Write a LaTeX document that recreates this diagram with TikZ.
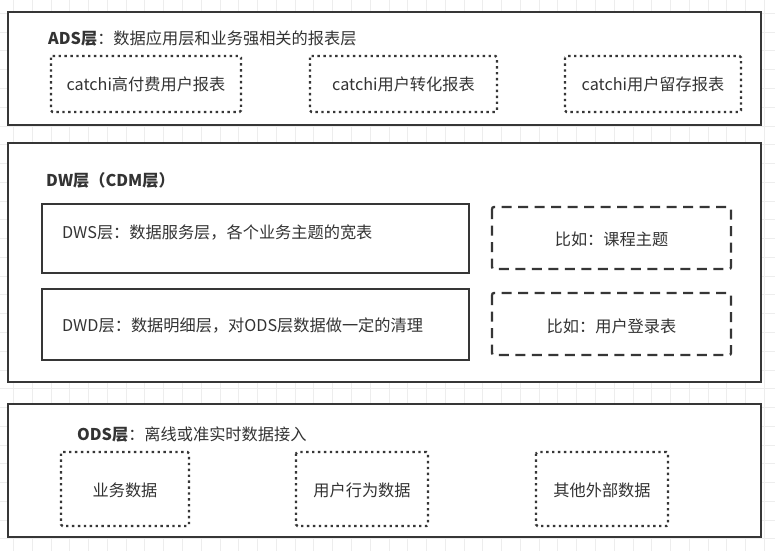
\documentclass[tikz,border=0pt]{standalone}
\usepackage{fontspec}
\setmainfont{Noto Sans CJK SC}
\begin{document}
\begin{tikzpicture}[x=1pt,y=-1pt,
  every node/.style={inner sep=0pt, text=txt, font=\fontsize{16.2}{18}\selectfont},
  layer/.style={draw=ln, line width=2.3pt, fill=white},
  solidbox/.style={draw=ln, line width=2.2pt, fill=white},
  dotbox/.style={draw=ln, line width=2.3pt, dash pattern=on 2.4pt off 3.5pt, rounded corners=1.5pt},
  dashbox/.style={draw=ln, line width=2.3pt, dash pattern=on 10pt off 6.5pt, rounded corners=2pt},
  title/.style={anchor=west},
  lbl/.style={anchor=center}
]
\definecolor{ln}{HTML}{363636}
\definecolor{txt}{HTML}{333333}
\definecolor{gridc}{HTML}{EDEDED}
\useasboundingbox (0,0) rectangle (775,551);
\fill[white] (0,0) rectangle (775,551);
% background grid
\foreach \i in {0,...,41} {
  \draw[gridc, line width=0.8pt] ({13.5+18.77*\i},0) -- ({13.5+18.77*\i},551);
}
\foreach \j in {0,...,29} {
  \draw[gridc, line width=0.8pt] (0,{13.3+18.77*\j}) -- (775,{13.3+18.77*\j});
}

% ADS layer
\draw[layer] (8,12) rectangle (761,125);
\node[title] (adst) at (48,38.5) {\textbf{ADS层}：数据应用层和业务强相关的报表层};
\draw[dotbox] (51,56) rectangle (241,112);
\node[lbl] (ads1) at (146,84) {catchi高付费用户报表};
\draw[dotbox] (310,56) rectangle (497,112);
\node[lbl] (ads2) at (403.5,84) {catchi用户转化报表};
\draw[dotbox] (565,56) rectangle (741,112);
\node[lbl] (ads3) at (653,84) {catchi用户留存报表};

% DW layer
\draw[layer] (8,143) rectangle (761,382);
\node[title] (dwt) at (46,180) {\textbf{DW层（CDM层）}};
\draw[solidbox] (42,204) rectangle (469,273);
\node[title] (dws) at (62,232) {DWS层：数据服务层，各个业务主题的宽表};
\draw[solidbox] (42,289) rectangle (469,360);
\node[title] (dwd) at (62,326) {DWD层：数据明细层，对ODS层数据做一定的清理};
\draw[dashbox] (492,207) rectangle (731,269);
\node[lbl] (ex1) at (611.5,239) {比如：课程主题};
\draw[dashbox] (492,293) rectangle (731,355);
\node[lbl] (ex2) at (611.5,326) {比如：用户登录表};

% ODS layer
\draw[layer] (8,404) rectangle (761,537);
\node[title] (odst) at (77,434.5) {\textbf{ODS层}：离线或准实时数据接入};
\draw[dotbox] (61,452) rectangle (189,526);
\node[lbl] (ods1) at (125,490) {业务数据};
\draw[dotbox] (296,452) rectangle (428,526);
\node[lbl] (ods2) at (362,490) {用户行为数据};
\draw[dotbox] (536,452) rectangle (668,526);
\node[lbl] (ods3) at (602,490) {其他外部数据};
\end{tikzpicture}
\end{document}
